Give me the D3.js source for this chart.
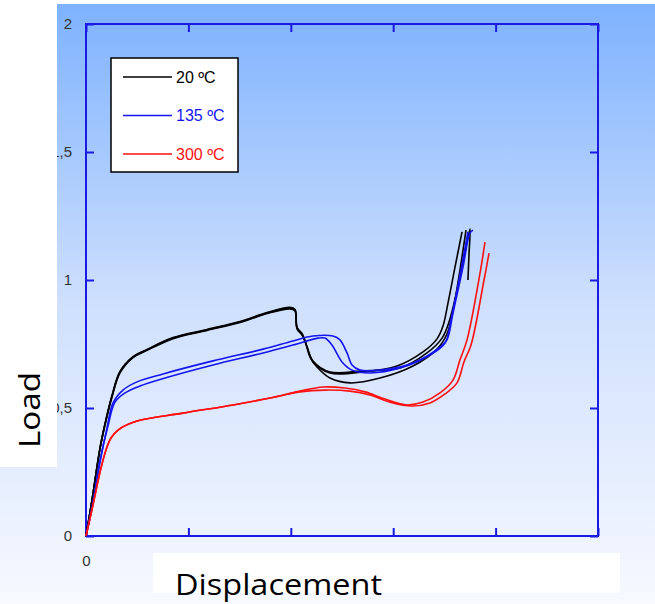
<!DOCTYPE html>
<html>
<head>
<meta charset="utf-8">
<script src="https://cdn.jsdelivr.net/npm/d3@7"></script>
<style>
  body { margin: 0; background: #fff; }
  svg { display: block; }
</style>
</head>
<body>
<svg id="chart" width="655" height="604"></svg>
<script>
// load-displacement curves (x in tick units, y in load units)
const black1 = [[0,0],[0.059,0.141],[0.137,0.344],[0.195,0.453],[0.254,0.547],[0.332,0.641],[0.459,0.699],[0.596,0.727],
  [0.850,0.773],[1.182,0.805],[1.504,0.836],[1.768,0.871],[1.992,0.891],[2.041,0.883],[2.061,0.813],[2.109,0.789],
  [2.158,0.738],[2.217,0.680],[2.383,0.637],[2.705,0.641],[3.037,0.664],[3.291,0.719],[3.428,0.770],[3.486,0.820],
  [3.535,0.910],[3.604,1.051],[3.672,1.188]];
const black2 = [[0,0],[0.059,0.141],[0.137,0.340],[0.195,0.450],[0.254,0.543],[0.332,0.637],[0.459,0.697],[0.596,0.725],
  [0.850,0.771],[1.182,0.803],[1.504,0.834],[1.768,0.869],[1.992,0.887],[2.041,0.879],[2.061,0.809],[2.109,0.785],
  [2.139,0.762],[2.188,0.699],[2.256,0.660],[2.383,0.617],[2.578,0.598],[2.871,0.617],[3.193,0.664],[3.428,0.730],
  [3.525,0.789],[3.584,0.879],[3.652,1.039],[3.711,1.195]];
const black3 = [[0,0],[0.059,0.141],[0.137,0.344],[0.195,0.455],[0.254,0.549],[0.332,0.643],[0.459,0.701],[0.596,0.729],
  [0.850,0.775],[1.182,0.807],[1.504,0.838],[1.768,0.873],[1.992,0.893],[2.041,0.885],[2.061,0.815],[2.109,0.791],
  [2.158,0.740],[2.217,0.684],[2.383,0.641],[2.705,0.645],[3.066,0.656],[3.330,0.715],[3.477,0.773],[3.545,0.836],
  [3.613,0.941],[3.682,1.070],[3.750,1.199],[3.740,1.098],[3.730,1.000]];
const blue1 = [[0,0],[0.068,0.129],[0.137,0.289],[0.205,0.422],[0.264,0.520],[0.361,0.570],[0.498,0.602],[0.752,0.633],
  [1.240,0.684],[1.729,0.730],[2.021,0.762],[2.217,0.781],[2.412,0.781],[2.480,0.766],[2.549,0.715],[2.598,0.668],
  [2.676,0.648],[2.871,0.648],[3.193,0.676],[3.457,0.738],[3.525,0.766],[3.584,0.871],[3.682,1.051],[3.750,1.184],
  [3.779,1.195]];
const blue2 = [[0,0],[0.068,0.133],[0.137,0.297],[0.215,0.430],[0.283,0.523],[0.381,0.559],[0.527,0.586],[0.771,0.617],
  [1.240,0.668],[1.729,0.715],[2.021,0.746],[2.266,0.773],[2.334,0.773],[2.402,0.746],[2.500,0.680],[2.598,0.648],
  [2.773,0.637],[3.066,0.656],[3.359,0.707],[3.506,0.754],[3.564,0.844],[3.652,1.020],[3.730,1.188]];
const red1 = [[0,0],[0.068,0.121],[0.137,0.250],[0.195,0.336],[0.244,0.383],[0.313,0.414],[0.498,0.449],[0.947,0.480],
  [1.436,0.512],[1.797,0.539],[2.090,0.566],[2.314,0.582],[2.529,0.578],[2.725,0.563],[2.920,0.535],[3.135,0.512],
  [3.291,0.523],[3.457,0.559],[3.584,0.609],[3.652,0.688],[3.721,0.766],[3.848,1.027],[3.896,1.148]];
const red2 = [[0,0],[0.068,0.121],[0.137,0.250],[0.195,0.336],[0.244,0.383],[0.313,0.414],[0.498,0.449],[0.947,0.480],
  [1.436,0.512],[1.797,0.539],[2.090,0.563],[2.334,0.570],[2.578,0.566],[2.773,0.551],[2.969,0.523],[3.184,0.508],
  [3.359,0.520],[3.506,0.555],[3.623,0.598],[3.691,0.680],[3.760,0.746],[3.887,1.000],[3.936,1.105]];

const seriesNames = ["20 ºC", "135 ºC", "300 ºC"];
const seriesColors = ["#000000", "#1414f0", "#ff1010"];
const yTicks = [0, 0.5, 1, 1.5, 2];
const yTickLabels = ["0", "0,5", "1", "1,5", "2"];
const xTicks = [0, 1, 2, 3, 4, 5];

const curves = [
  {data: black1, s: 0}, {data: black2, s: 0}, {data: black3, s: 0},
  {data: blue1, s: 1}, {data: blue2, s: 1},
  {data: red1, s: 2}, {data: red2, s: 2}
];

const svg = d3.select("#chart");
const W = 655, H = 604;
const plot = {left: 86, top: 24, right: 598, bottom: 536};

// background gradient panel
const defs = svg.append("defs");
const grad = defs.append("linearGradient").attr("id", "bg")
  .attr("x1", "0%").attr("y1", "0%").attr("x2", "0%").attr("y2", "100%");
grad.append("stop").attr("offset", "0%").attr("stop-color", "#7eb2fe");
grad.append("stop").attr("offset", "50%").attr("stop-color", "#cfe0fd");
grad.append("stop").attr("offset", "100%").attr("stop-color", "#f7f9ff");

svg.append("rect").attr("x", 0).attr("y", 4).attr("width", W).attr("height", H - 4)
  .attr("fill", "url(#bg)");

const x = d3.scaleLinear().domain([0, 5]).range([plot.left, plot.right]);
const y = d3.scaleLinear().domain([0, 2]).range([plot.bottom, plot.top]);

const axisColor = "#1a1ae6";
const tickFont = "15px 'Liberation Sans', Arial, sans-serif";

function styleAxis(g) {
  g.select(".domain").remove();
  g.selectAll(".tick line").attr("stroke", axisColor).attr("stroke-width", 2);
  g.selectAll(".tick text").attr("fill", "#333").style("font", tickFont);
}

svg.append("g").attr("transform", `translate(${plot.left},0)`)
  .call(d3.axisLeft(y).tickValues(yTicks).tickSizeInner(-8).tickSizeOuter(0).tickPadding(14)
    .tickFormat((d, i) => yTickLabels[i]))
  .call(styleAxis);
svg.append("g").attr("transform", `translate(${plot.right},0)`)
  .call(d3.axisRight(y).tickValues(yTicks).tickSizeInner(-8).tickSizeOuter(0).tickFormat(""))
  .call(styleAxis);
svg.append("g").attr("transform", `translate(0,${plot.bottom})`)
  .call(d3.axisBottom(x).tickValues(xTicks).tickSizeInner(-8).tickSizeOuter(0).tickPadding(19)
    .tickFormat(d => d === 0 ? "0" : ""))
  .call(styleAxis);
svg.append("g").attr("transform", `translate(0,${plot.top})`)
  .call(d3.axisTop(x).tickValues(xTicks).tickSizeInner(-8).tickSizeOuter(0).tickFormat(""))
  .call(styleAxis);

svg.append("rect")
  .attr("x", plot.left).attr("y", plot.top)
  .attr("width", plot.right - plot.left).attr("height", plot.bottom - plot.top)
  .attr("fill", "none").attr("stroke", axisColor).attr("stroke-width", 2);

// curves
const line = d3.line().x(d => x(d[0])).y(d => y(d[1])).curve(d3.curveCatmullRom.alpha(0.5));
svg.append("g").selectAll("path").data(curves).join("path")
  .attr("d", d => line(d.data))
  .attr("fill", "none")
  .attr("stroke", d => seriesColors[d.s])
  .attr("stroke-width", 1.6)
  .attr("stroke-linejoin", "round");

// legend
const leg = svg.append("g");
leg.append("rect").attr("x", 111).attr("y", 58).attr("width", 127).attr("height", 114)
  .attr("fill", "#fff").attr("stroke", "#000").attr("stroke-width", 1.5);
seriesNames.forEach((name, i) => {
  const ly = 77 + i * 38.5;
  leg.append("line").attr("x1", 123).attr("x2", 172).attr("y1", ly).attr("y2", ly)
    .attr("stroke", seriesColors[i]).attr("stroke-width", 1.6);
  leg.append("text").attr("x", 176).attr("y", ly).attr("dy", "0.36em")
    .attr("fill", seriesColors[i]).style("font", "16px 'Liberation Sans', Arial, sans-serif").text(name);
});

// white label boxes
svg.append("rect").attr("x", 0).attr("y", 0).attr("width", W).attr("height", 4).attr("fill", "#fff");
svg.append("rect").attr("x", 0).attr("y", 0).attr("width", 57).attr("height", 467).attr("fill", "#fff");
svg.append("rect").attr("x", 153).attr("y", 553).attr("width", 467).attr("height", 40).attr("fill", "#fff");

svg.append("text")
  .attr("transform", "translate(40,410) rotate(-90)")
  .attr("text-anchor", "middle")
  .attr("textLength", 76).attr("lengthAdjust", "spacingAndGlyphs")
  .style("font", "29px 'Open Sans', sans-serif").attr("fill", "#000")
  .text("Load");
svg.append("text")
  .attr("x", 175).attr("y", 595)
  .attr("textLength", 207).attr("lengthAdjust", "spacingAndGlyphs")
  .style("font", "29px 'Open Sans', sans-serif").attr("fill", "#000")
  .text("Displacement");
</script>
</body>
</html>
